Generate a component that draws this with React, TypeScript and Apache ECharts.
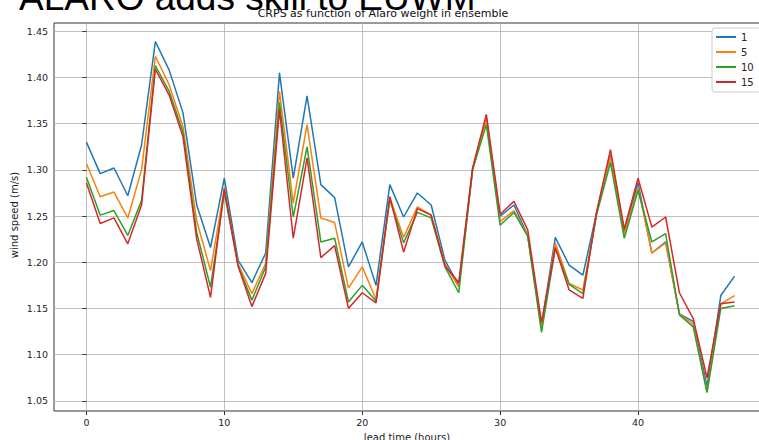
import React, { useEffect, useRef } from "react";
import * as echarts from "echarts";

const hours: number[] = Array.from({ length: 48 }, (_, i) => i);

const w1: number[] = [
  1.330, 1.296, 1.302, 1.272, 1.327, 1.439, 1.408, 1.362, 1.262, 1.216,
  1.291, 1.202, 1.178, 1.210, 1.405, 1.291, 1.380, 1.284, 1.270, 1.195,
  1.222, 1.175, 1.284, 1.249, 1.275, 1.262, 1.202, 1.175, 1.300, 1.356,
  1.250, 1.262, 1.229, 1.132, 1.227, 1.197, 1.186, 1.254, 1.316, 1.234,
  1.286, 1.210, 1.222, 1.144, 1.136, 1.066, 1.164, 1.185,
];
const w5: number[] = [
  1.307, 1.271, 1.276, 1.248, 1.300, 1.423, 1.392, 1.347, 1.245, 1.191,
  1.280, 1.198, 1.166, 1.199, 1.385, 1.264, 1.349, 1.248, 1.243, 1.172,
  1.195, 1.160, 1.270, 1.227, 1.260, 1.251, 1.198, 1.173, 1.300, 1.355,
  1.244, 1.256, 1.229, 1.129, 1.221, 1.177, 1.170, 1.253, 1.314, 1.230,
  1.281, 1.210, 1.221, 1.144, 1.133, 1.060, 1.155, 1.164,
];
const w10: number[] = [
  1.292, 1.251, 1.256, 1.229, 1.267, 1.413, 1.385, 1.341, 1.232, 1.173,
  1.275, 1.196, 1.159, 1.195, 1.373, 1.249, 1.325, 1.222, 1.226, 1.157,
  1.175, 1.158, 1.268, 1.221, 1.254, 1.248, 1.195, 1.167, 1.300, 1.349,
  1.240, 1.254, 1.228, 1.124, 1.215, 1.176, 1.166, 1.252, 1.308, 1.226,
  1.278, 1.222, 1.231, 1.143, 1.130, 1.059, 1.150, 1.153,
];
const w15: number[] = [
  1.286, 1.242, 1.248, 1.220, 1.262, 1.409, 1.381, 1.336, 1.225, 1.162,
  1.280, 1.196, 1.152, 1.188, 1.365, 1.226, 1.313, 1.205, 1.218, 1.150,
  1.167, 1.156, 1.271, 1.211, 1.258, 1.251, 1.196, 1.178, 1.302, 1.360,
  1.252, 1.266, 1.235, 1.135, 1.216, 1.170, 1.161, 1.255, 1.322, 1.236,
  1.291, 1.238, 1.249, 1.167, 1.139, 1.075, 1.155, 1.157,
];

const seriesNames: string[] = ["1", "5", "10", "15"];
const seriesColors: string[] = ["#1f77b4", "#ff7f0e", "#2ca02c", "#d62728"];
const xTicks: number[] = [0, 10, 20, 30, 40];
const yTicks: number[] = [1.05, 1.1, 1.15, 1.2, 1.25, 1.3, 1.35, 1.4, 1.45];

const FONT = "DejaVu Sans";

export default function App() {
  const ref = useRef<HTMLDivElement>(null);
  useEffect(() => {
    if (!ref.current) return;
    const chart = echarts.init(ref.current, undefined, { renderer: "svg" });
    const all = [w1, w5, w10, w15];
    chart.setOption({
      animation: false,
      backgroundColor: "#ffffff",
      grid: {
        left: 54,
        top: 23,
        right: 13,
        bottom: 29,
        show: true,
        borderColor: "#333",
        borderWidth: 1,
        backgroundColor: "transparent",
      },
      legend: {
        data: seriesNames,
        orient: "vertical",
        left: 712,
        top: 28,
        icon: "rect",
        itemWidth: 20,
        itemHeight: 2,
        itemGap: 5,
        padding: [4, 8, 5, 4],
        backgroundColor: "#fff",
        borderColor: "#ccc",
        borderWidth: 1,
        borderRadius: 3,
        textStyle: { fontFamily: FONT, fontSize: 10, color: "#222" },
      },
      xAxis: {
        type: "value",
        min: -2.35,
        max: 49.35,
        axisLine: { show: false },
        axisTick: {
          show: true,
          length: 4,
          customValues: xTicks,
          lineStyle: { color: "#333" },
        },
        axisLabel: {
          customValues: xTicks,
          margin: 6,
          fontFamily: FONT,
          fontSize: 9.5,
          color: "#222",
        },
        splitLine: { show: true, lineStyle: { color: "#b0b0b0", width: 0.8 } },
      },
      yAxis: {
        type: "value",
        min: 1.039,
        max: 1.459,
        axisLine: { show: false },
        axisTick: {
          show: true,
          length: 4,
          customValues: yTicks,
          lineStyle: { color: "#333" },
        },
        axisLabel: {
          customValues: yTicks,
          margin: 6,
          fontFamily: FONT,
          fontSize: 9.5,
          color: "#222",
          formatter: (v: number) => v.toFixed(2),
        },
        splitLine: { show: true, lineStyle: { color: "#b0b0b0", width: 0.8 } },
      },
      series: seriesNames.map((name, i) => ({
        name,
        type: "line",
        data: hours.map((h, j) => [h, all[i][j]]),
        showSymbol: false,
        symbol: "none",
        lineStyle: { color: seriesColors[i], width: 1.5 },
        itemStyle: { color: seriesColors[i] },
        z: 2 + i,
      })),
      graphic: [
        {
          type: "text",
          x: 19,
          y: -3,
          style: {
            text: "ALARO adds skill to EUWM",
            fontFamily: "Liberation Sans",
            fontSize: 37,
            fill: "#000",
            align: "left",
            verticalAlign: "middle",
          },
        },
        {
          type: "text",
          x: 383,
          y: 13,
          style: {
            text: "CRPS as function of Alaro weight in ensemble",
            fontFamily: FONT,
            fontSize: 11,
            fill: "#111",
            align: "center",
            verticalAlign: "middle",
          },
        },
        {
          type: "text",
          x: 14,
          y: 215,
          rotation: Math.PI / 2,
          style: {
            text: "wind speed (m/s)",
            fontFamily: FONT,
            fontSize: 10,
            fill: "#222",
            align: "center",
            verticalAlign: "middle",
          },
        },
        {
          type: "text",
          x: 407,
          y: 437,
          style: {
            text: "lead time (hours)",
            fontFamily: FONT,
            fontSize: 10,
            fill: "#222",
            align: "center",
            verticalAlign: "middle",
          },
        },
      ],
    });
    return () => chart.dispose();
  }, []);
  return (
    <div
      style={{
        position: "fixed",
        left: 0,
        top: 0,
        width: 759,
        height: 440,
        overflow: "hidden",
        background: "#fff",
      }}
    >
      <div ref={ref} style={{ width: 780, height: 440 }} />
    </div>
  );
}
